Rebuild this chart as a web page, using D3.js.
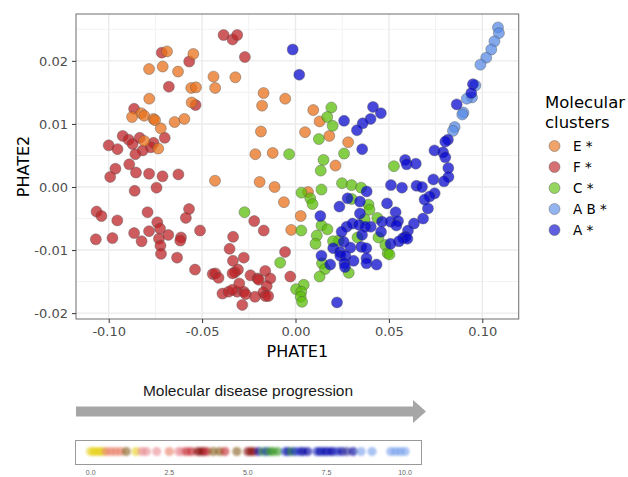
<!DOCTYPE html>
<html><head><meta charset="utf-8">
<script src="https://cdn.jsdelivr.net/npm/d3@7"></script>
<style>body{margin:0;background:#fff}svg{display:block}</style>
</head><body>
<script>
// ---------- DATA ----------
const clusters = ["E *","F *","C *","A B *","A *"];
const clusterColors = ["#E8721C","#BE2428","#5CBE0A","#5A8CE6","#0A0ACD"];
const xTicks = [-0.10,-0.05,0.00,0.05,0.10];
const xTickLabels = ["-0.10","-0.05","0.00","0.05","0.10"];
const yTicks = [0.02,0.01,0.00,-0.01,-0.02];
const yTickLabels = ["0.02","0.01","0.00","-0.01","-0.02"];
const xMinor = [-0.075,-0.025,0.025,0.075];
const yMinor = [0.025,0.015,0.005,-0.005,-0.015];

const clusterE = [[-0.0688,0.0215],[-0.0547,0.0211],[-0.0784,0.0187],[-0.0711,0.0191],[-0.0629,0.0183],[-0.0439,0.0175],[-0.0322,0.0174],[-0.0558,0.0157],[-0.0533,0.0158],[-0.0430,0.0157],[-0.0783,0.0140],[-0.0556,0.0134],[-0.0171,0.0149],[-0.0179,0.0129],[-0.0055,0.0140],[-0.0826,0.0117],[-0.0875,0.0111],[-0.0810,0.0113],[-0.0760,0.0108],[-0.0752,0.0106],[-0.0721,0.0093],[-0.0647,0.0103],[-0.0595,0.0108],[0.0095,0.0122],[0.0129,0.0104],[-0.0185,0.0088],[0.0051,0.0087],[0.0181,0.0081],[0.0282,0.0071],[-0.0810,0.0073],[-0.0735,0.0061],[-0.0215,0.0052],[-0.0122,0.0054],[0.0214,0.0034],[-0.0431,0.0010],[-0.0192,0.0008],[-0.0112,0.0000],[-0.0062,-0.0024],[0.0028,-0.0046],[-0.0023,-0.0068],[0.0067,-0.0008]];
const clusterF = [[-0.0385,0.0241],[-0.0337,0.0234],[-0.0312,0.0241],[-0.0271,0.0206],[-0.0716,0.0213],[-0.0569,0.0199],[-0.0678,0.0159],[-0.0535,0.0130],[-0.0864,0.0124],[-0.0700,0.0078],[-0.0925,0.0081],[-0.0893,0.0075],[-0.1000,0.0066],[-0.0953,0.0060],[-0.0872,0.0068],[-0.0834,0.0078],[-0.0760,0.0070],[-0.0775,0.0063],[-0.0818,0.0058],[-0.0857,0.0052],[-0.0890,0.0036],[-0.0964,0.0029],[-0.0854,0.0023],[-0.0784,0.0021],[-0.0712,0.0017],[-0.0627,0.0020],[-0.0992,0.0016],[-0.0861,-0.0006],[-0.0744,-0.0001],[-0.1065,-0.0039],[-0.1039,-0.0046],[-0.0954,-0.0053],[-0.0792,-0.0040],[-0.0740,-0.0056],[-0.0725,-0.0066],[-0.0784,-0.0070],[-0.0864,-0.0073],[-0.0824,-0.0086],[-0.0731,-0.0082],[-0.0723,-0.0093],[-0.0720,-0.0106],[-0.0681,-0.0076],[-0.0613,-0.0080],[-0.0617,-0.0085],[-0.0570,-0.0035],[-0.0587,-0.0049],[-0.0511,-0.0069],[-0.1069,-0.0083],[-0.0980,-0.0081],[-0.0634,-0.0112],[-0.0538,-0.0131],[-0.0443,-0.0138],[-0.0429,-0.0137],[-0.0412,-0.0144],[-0.0391,-0.0169],[-0.0334,-0.0079],[-0.0353,-0.0098],[-0.0277,-0.0112],[-0.0335,-0.0117],[-0.0324,-0.0135],[-0.0308,-0.0131],[-0.0337,-0.0137],[-0.0241,-0.0140],[-0.0203,-0.0145],[-0.0162,-0.0133],[-0.0135,-0.0145],[-0.0154,-0.0157],[-0.0197,-0.0147],[-0.0172,-0.0167],[-0.0358,-0.0166],[-0.0313,-0.0166],[-0.0277,-0.0166],[-0.0217,-0.0174],[-0.0161,-0.0173],[-0.0285,-0.0187],[-0.0338,-0.0163],[-0.0301,-0.0153],[-0.0267,-0.0170],[-0.0146,-0.0173],[-0.0056,-0.0103],[-0.0028,-0.0142],[-0.0221,-0.0054],[-0.0170,-0.0069]];
const clusterC = [[-0.0034,0.0052],[0.0192,0.0126],[0.0170,0.0111],[0.0199,0.0097],[0.0125,0.0076],[0.0150,0.0043],[0.0260,0.0053],[0.0135,0.0026],[0.0527,0.0033],[0.0249,0.0006],[0.0300,0.0003],[0.0351,-0.0001],[0.0032,-0.0009],[0.0139,-0.0004],[0.0079,-0.0018],[0.0091,-0.0027],[0.0301,-0.0019],[0.0391,-0.0028],[0.0396,-0.0036],[-0.0273,-0.0040],[0.0139,-0.0061],[0.0171,-0.0067],[0.0031,-0.0069],[0.0114,-0.0077],[0.0107,-0.0090],[0.0370,-0.0051],[0.0438,-0.0049],[0.0332,-0.0080],[0.0231,-0.0085],[0.0201,-0.0086],[0.0444,-0.0080],[0.0481,-0.0092],[0.0493,-0.0105],[0.0503,-0.0107],[0.0142,-0.0121],[0.0158,-0.0130],[0.0129,-0.0142],[0.0285,-0.0136],[-0.0082,-0.0120],[0.0044,-0.0155],[0.0003,-0.0162],[0.0031,-0.0166],[0.0028,-0.0174],[0.0035,-0.0182]];
const clusterAB = [[0.1084,0.0253],[0.1089,0.0244],[0.1065,0.0231],[0.1048,0.0218],[0.1021,0.0205],[0.0990,0.0194],[0.0963,0.0161],[0.0945,0.0142],[0.0917,0.0140],[0.0899,0.0118],[0.0893,0.0115],[0.0852,0.0095],[0.0843,0.0089]];
const clusterA = [[-0.0015,0.0218],[0.0020,0.0178],[0.0950,0.0163],[0.0941,0.0149],[0.0863,0.0131],[0.0816,0.0075],[0.0802,0.0072],[0.0744,0.0058],[0.0790,0.0055],[0.0802,0.0047],[0.0818,0.0030],[0.0415,0.0127],[0.0457,0.0117],[0.0402,0.0108],[0.0360,0.0101],[0.0329,0.0090],[0.0260,0.0105],[0.0357,0.0060],[0.0587,0.0043],[0.0595,0.0036],[0.0644,0.0037],[0.0819,0.0016],[0.0738,0.0012],[0.0795,0.0009],[0.0648,0.0002],[0.0677,0.0000],[0.0570,-0.0001],[0.0511,0.0003],[0.0745,-0.0010],[0.0718,-0.0015],[0.0691,-0.0020],[0.0709,-0.0034],[0.0683,-0.0050],[0.0634,-0.0058],[0.0602,-0.0069],[0.0590,-0.0079],[0.0576,-0.0081],[0.0599,-0.0082],[0.0554,-0.0086],[0.0490,-0.0026],[0.0536,-0.0040],[0.0463,-0.0055],[0.0509,-0.0055],[0.0549,-0.0054],[0.0540,-0.0061],[0.0458,-0.0071],[0.0403,-0.0063],[0.0381,-0.0007],[0.0279,-0.0018],[0.0345,-0.0023],[0.0235,-0.0031],[0.0345,-0.0042],[0.0133,-0.0046],[0.0274,-0.0063],[0.0305,-0.0058],[0.0340,-0.0060],[0.0374,-0.0063],[0.0247,-0.0071],[0.0356,-0.0076],[0.0258,-0.0087],[0.0294,-0.0096],[0.0352,-0.0095],[0.0379,-0.0097],[0.0202,-0.0097],[0.0238,-0.0103],[0.0139,-0.0109],[0.0186,-0.0123],[0.0240,-0.0109],[0.0267,-0.0109],[0.0311,-0.0117],[0.0262,-0.0121],[0.0265,-0.0127],[0.0380,-0.0113],[0.0380,-0.0121],[0.0434,-0.0123],[0.0222,-0.0183],[0.0509,-0.0090]];

// bottom strip (pasted progression image)
const stripTicks = [0.0,2.5,5.0,7.5,10.0];
const stripTickLabels = ["0.0","2.5","5.0","7.5","10.0"];
const stripValues = [0.0,0.1,0.2,0.3,0.4,0.5,0.65,0.8,0.95,1.13,1.45,1.63,1.77,2.1,2.5,2.8,2.9,3.05,3.2,3.4,3.5,3.6,3.7,3.9,4.1,4.27,4.65,5.0,5.1,5.2,5.35,5.5,5.6,5.7,5.8,5.95,6.2,6.3,6.4,6.5,6.65,6.75,6.9,7.2,7.3,7.4,7.5,7.6,7.7,7.85,8.0,8.15,8.35,8.6,8.95,9.55,9.7,9.85,10.0];
const stripGroups = ["Y","Y","Y","Y","Y","S","S","S","S","O","Y","P","P","P","S","P","P","R","R","D","D","D","R","O","O","R","O","D","D","D","N","G","B","G","G","G","B","N","G","B","B","N","N","B","N","B","N","B","N","B","N","V","N","L","L","L","L","L","L"];
const stripPalette = {Y:"#E6D01A",S:"#E98068",P:"#E88C94",R:"#C42A32",D:"#8A1010",O:"#86601A",G:"#3A9A26",B:"#1A2AC4",N:"#0808A0",V:"#34349A",L:"#78A0EC"};

// ---------- DRAW ----------
const W=628,H=477;
const svg=d3.select("body").append("svg").attr("width",W).attr("height",H);
svg.append("rect").attr("width",W).attr("height",H).attr("fill","#fff");

const P={l:76,r:518.7,t:14,b:319};
const x=d3.scaleLinear().domain([-0.11751,0.11949]).range([P.l,P.r]);
const y=d3.scaleLinear().domain([-0.02093,0.02743]).range([P.b,P.t]);
const FONT="DejaVu Sans, Verdana, sans-serif";

const g=svg.append("g");
// grid
g.selectAll(".xmin").data(xMinor).join("line").attr("x1",d=>x(d)).attr("x2",d=>x(d)).attr("y1",P.t).attr("y2",P.b).attr("stroke","#F0F0F0").attr("stroke-width",0.9);
g.selectAll(".ymin").data(yMinor).join("line").attr("y1",d=>y(d)).attr("y2",d=>y(d)).attr("x1",P.l).attr("x2",P.r).attr("stroke","#F0F0F0").attr("stroke-width",0.9);
g.selectAll(".xmaj").data(xTicks).join("line").attr("x1",d=>x(d)).attr("x2",d=>x(d)).attr("y1",P.t).attr("y2",P.b).attr("stroke","#EBEBEB").attr("stroke-width",1.4);
g.selectAll(".ymaj").data(yTicks).join("line").attr("y1",d=>y(d)).attr("y2",d=>y(d)).attr("x1",P.l).attr("x2",P.r).attr("stroke","#EBEBEB").attr("stroke-width",1.4);

// points
const all=[];
[clusterF,clusterE,clusterC,clusterAB,clusterA].forEach((arr,i)=>{
  const ci=[1,0,2,3,4][i];
  arr.forEach(p=>all.push({x:p[0],y:p[1],c:ci}));
});
g.selectAll("circle.pt").data(all).join("circle").attr("class","pt")
  .attr("cx",d=>x(d.x)).attr("cy",d=>y(d.y)).attr("r",5.5)
  .attr("fill",d=>clusterColors[d.c]).attr("fill-opacity",0.75)
  .attr("stroke","#555").attr("stroke-opacity",0.6).attr("stroke-width",0.7);

// border
svg.append("rect").attr("x",P.l).attr("y",P.t).attr("width",P.r-P.l).attr("height",P.b-P.t)
  .attr("fill","none").attr("stroke","#7a7a7a").attr("stroke-width",1.1);

// axes
const xa=svg.append("g").attr("transform",`translate(0,${P.b})`)
  .call(d3.axisBottom(x).tickValues(xTicks).tickFormat((d,i)=>xTickLabels[i]).tickSize(4).tickPadding(4));
const ya=svg.append("g").attr("transform",`translate(${P.l},0)`)
  .call(d3.axisLeft(y).tickValues(yTicks).tickFormat((d,i)=>yTickLabels[i]).tickSize(4).tickPadding(4));
[xa,ya].forEach(a=>{
  a.select(".domain").remove();
  a.selectAll(".tick line").attr("stroke","#333").attr("stroke-width",1);
  a.selectAll(".tick text").attr("fill","#4D4D4D").style("font-family",FONT).style("font-size","13px");
});

svg.append("text").attr("x",(P.l+P.r)/2).attr("y",357).attr("text-anchor","middle")
  .style("font-family",FONT).style("font-size","16px").attr("fill","#000").text("PHATE1");
svg.append("text").attr("transform",`translate(29,${(P.t+P.b)/2}) rotate(-90)`).attr("text-anchor","middle")
  .style("font-family",FONT).style("font-size","16px").attr("fill","#000").text("PHATE2");

// legend
const lg=svg.append("g");
lg.append("text").attr("x",545).attr("y",107.5).style("font-family",FONT).style("font-size","16.5px").text("Molecular");
lg.append("text").attr("x",545).attr("y",127.5).style("font-family",FONT).style("font-size","16.5px").text("clusters");
const ly=d3.scalePoint().domain(clusters).range([146,230]);
lg.selectAll("circle").data(clusters).join("circle").attr("cx",554.5).attr("cy",d=>ly(d)).attr("r",5.5)
  .attr("fill",(d,i)=>clusterColors[i]).attr("fill-opacity",0.65).attr("stroke","#555").attr("stroke-opacity",0.6).attr("stroke-width",0.7);
lg.selectAll("text.lab").data(clusters).join("text").attr("class","lab").attr("x",573).attr("y",d=>ly(d)+5)
  .style("font-family",FONT).style("font-size","13.5px").attr("fill","#000").text(d=>d);

// bottom arrow
const ARW="Liberation Sans, Arial, sans-serif";
svg.append("text").attr("x",248).attr("y",396).attr("text-anchor","middle").style("font-family",ARW).style("font-size","15.5px").attr("fill","#1a1a1a").text("Molecular disease progression");
svg.append("path").attr("d","M76,406.5 L413,406.5 L413,400 L426,411.5 L413,423 L413,416.5 L76,416.5 Z").attr("fill","#A6A6A6");

// strip
const sx=d3.scaleLinear().domain([0,10]).range([90.7,405]);
svg.append("rect").attr("x",75.5).attr("y",440.5).attr("width",346).attr("height",24).attr("fill","#fff").attr("stroke","#999").attr("stroke-width",1);
const defs=svg.append("defs");
defs.append("filter").attr("id","bl").attr("x","-20%").attr("y","-50%").attr("width","140%").attr("height","200%")
  .append("feGaussianBlur").attr("stdDeviation",0.9);
svg.append("g").attr("filter","url(#bl)").selectAll("circle").data(stripValues).join("circle")
  .attr("cx",d=>sx(d)).attr("cy",451.5).attr("r",4.6).attr("fill",(d,i)=>stripPalette[stripGroups[i]]).attr("fill-opacity",0.62);
svg.append("g").selectAll("text").data(stripTicks).join("text").attr("x",d=>sx(d)).attr("y",474.5).attr("text-anchor","middle")
  .style("font-family",ARW).style("font-size","7px").attr("fill","#666").text((d,i)=>stripTickLabels[i]);
</script>
</body></html>
